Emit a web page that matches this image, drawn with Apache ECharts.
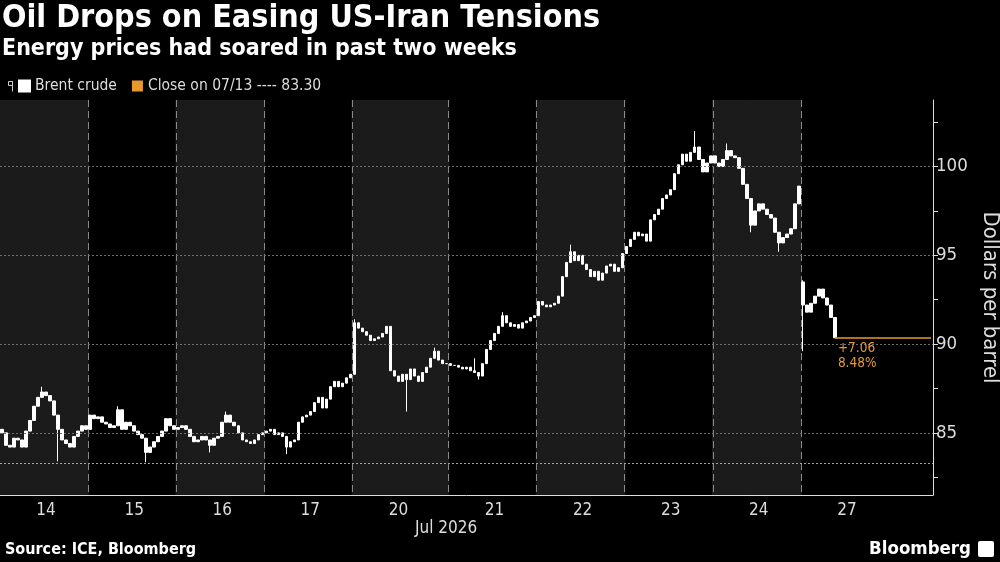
<!DOCTYPE html>
<html>
<head>
<meta charset="utf-8">
<title>Oil Drops on Easing US-Iran Tensions</title>
<script src="https://cdn.jsdelivr.net/npm/echarts@6/dist/echarts.min.js"></script>
<style>
  html, body { margin: 0; padding: 0; background: #000; }
  #chart { width: 1000px; height: 562px; }
</style>
</head>
<body>
<div id="chart"></div>
<script>
// trading days shown on the x axis
const days = ['14', '15', '16', '17', '20', '21', '22', '23', '24', '27']
const shadedDays = ['14', '16', '20', '22', '24']

// Brent crude, roughly hourly closes
const close14 = [85.0, 84.3, 84.2, 84.7, 84.6, 84.2, 85.1, 85.7, 86.5, 87.0, 87.3, 87.1, 86.8, 86.0, 85.2, 84.6, 84.4, 84.2, 84.8, 85.1, 85.4, 85.2]
const close15 = [86.0, 85.8, 85.9, 85.6, 85.5, 85.3, 85.4, 86.3, 85.2, 85.6, 85.4, 85.1, 84.9, 84.7, 83.9, 84.2, 84.5, 84.8, 85.1, 85.8, 85.4, 85.2]
const close16 = [85.3, 85.4, 85.2, 84.8, 84.5, 84.6, 84.8, 84.6, 84.3, 84.7, 84.8, 85.6, 86.0, 85.6, 85.4, 85.0, 84.6, 84.5, 84.4, 84.6, 84.9, 85.0]
const close17 = [85.1, 85.2, 84.9, 85.0, 84.8, 84.2, 84.5, 84.6, 85.6, 85.9, 86.0, 86.2, 86.7, 87.0, 86.4, 86.9, 87.6, 87.9, 87.6, 87.8, 88.1, 88.3]
const close20 = [91.2, 90.9, 90.7, 90.5, 90.2, 90.3, 90.4, 90.6, 91.0, 88.5, 88.2, 87.9, 88.3, 88.0, 88.6, 88.2, 87.9, 88.4, 88.7, 89.2, 89.6, 89.1, 88.9, 88.9]
const close21 = [88.8, 88.8, 88.7, 88.6, 88.7, 88.5, 88.4, 88.2, 88.9, 89.7, 90.2, 90.6, 91.0, 91.6, 91.2, 91.0, 91.1, 90.9, 91.2, 91.3, 91.5, 91.6]
const close22 = [92.4, 92.2, 92.1, 92.2, 92.3, 92.7, 93.8, 94.6, 95.2, 94.7, 95.0, 94.5, 94.2, 93.8, 94.1, 93.6, 94.0, 94.4, 94.5, 94.1, 94.3, 95.1]
const close23 = [95.5, 95.9, 96.3, 96.1, 96.2, 95.8, 97.0, 97.3, 97.6, 98.2, 98.4, 98.7, 99.6, 100.1, 100.7, 100.3, 100.8, 101.1, 100.4, 99.7, 100.2, 100.6]
const close24 = [100.2, 100.0, 100.4, 100.9, 100.6, 100.5, 99.9, 99.0, 98.2, 96.7, 97.5, 97.9, 97.6, 97.3, 97.1, 96.3, 95.7, 96.0, 96.2, 96.5, 97.9, 98.9]
const close27 = [92.2, 91.8, 92.3, 92.7, 93.1, 92.6, 92.2, 91.5, 90.36]
const closeByDay = [close14, close15, close16, close17, close20, close21, close22, close23, close24, close27]

const firstOpen = 85.2
// opens that gap away from the previous close: [day, bar, open]
const gapOpens = [['27', 0, 93.5]]
// wicks that stick out past the bodies: [day, bar, low, high]
const wicks = [
  ['14', 10, null, 87.6], ['14', 14, 83.4, null],
  ['15', 7, null, 86.5], ['15', 14, 83.35, null],
  ['16', 8, 83.9, null], ['16', 12, null, 86.2],
  ['17', 5, 83.8, null],
  ['20', 0, null, 91.4], ['20', 13, 86.2, null], ['20', 20, null, 89.8],
  ['21', 6, null, 89.2], ['21', 7, 88.0, null], ['21', 13, null, 91.8],
  ['22', 8, null, 95.6],
  ['23', 17, null, 102.0],
  ['24', 3, null, 101.3], ['24', 9, 96.3, null], ['24', 16, 95.2, null],
  ['27', 0, 89.6, 93.6],
]

const prevClose = 83.30
const lastClose = 90.36
const changeText = ['+7.06', '8.48%']
const yMin = 81.5
const yMax = 103.75
const yLabels = [85, 90, 95, 100]
const yTicks = [82.5, 85, 87.5, 90, 92.5, 95, 97.5, 100, 102.5]
const lastDaySlots = 33

const orange = '#e8992e'
const font = 'DejaVu Sans Condensed'

// build categories (one per hour slot), candles and day shading
const cats = []
const candles = []
const shade = []
const dayStarts = new Set()
const labelAt = new Set()
let prev = firstOpen
let lastIdx = 0
days.forEach((d, di) => {
  const closes = closeByDay[di]
  const n = di === days.length - 1 ? lastDaySlots : closes.length
  const start = cats.length
  if (start > 0) dayStarts.add(start)
  labelAt.add(start + Math.floor(Math.min(n, 22) / 2))
  for (let i = 0; i < n; i++) {
    cats.push(d + '-' + i)
    shade.push(shadedDays.includes(d) ? yMax : '-')
    if (i < closes.length) {
      const gap = gapOpens.find(g => g[0] === d && g[1] === i)
      const open = gap ? gap[2] : prev
      const c = closes[i]
      let lo = Math.min(open, c)
      let hi = Math.max(open, c)
      const w = wicks.find(k => k[0] === d && k[1] === i)
      if (w && w[2] != null) lo = Math.min(lo, w[2])
      if (w && w[3] != null) hi = Math.max(hi, w[3])
      candles.push([open, c, lo, hi])
      prev = c
      lastIdx = cats.length - 1
    } else {
      candles.push('-')
    }
  }
})

const chart = echarts.init(document.getElementById('chart'))

chart.setOption({
  backgroundColor: '#000',
  animation: false,
  title: [
    {
      text: 'Oil Drops on Easing US-Iran Tensions',
      subtext: 'Energy prices had soared in past two weeks',
      left: 0,
      top: 1,
      padding: [2, 2],
      itemGap: 3,
      textStyle: { color: '#fff', fontSize: 32, fontWeight: 'bold', fontFamily: font },
      subtextStyle: { color: '#fff', fontSize: 23, fontWeight: 'bold', fontFamily: font },
    },
    {
      text: 'Source: ICE, Bloomberg',
      left: 3,
      bottom: 2,
      padding: 2,
      textStyle: { color: '#fff', fontSize: 16, fontWeight: 'bold', fontFamily: font },
    },
    {
      text: 'Bloomberg',
      right: 27,
      bottom: 1,
      padding: 2,
      textStyle: { color: '#fff', fontSize: 18.5, fontWeight: 'bold', fontFamily: font },
    },
  ],
  legend: {
    left: 13,
    top: 73,
    icon: 'rect',
    itemWidth: 11,
    itemHeight: 11,
    itemGap: 15,
    selectedMode: false,
    textStyle: { color: '#ddd', fontSize: 15.5, fontFamily: font },
    data: ['Brent crude', 'Close on 07/13 ---- 83.30'],
  },
  graphic: [
    {
      // little candle glyph in front of the legend
      type: 'group',
      left: 6,
      top: 79,
      children: [
        { type: 'rect', shape: { x: 0, y: 1, width: 4, height: 4 }, style: { fill: 'none', stroke: '#ccc', lineWidth: 1 } },
        { type: 'line', shape: { x1: 4, y1: 1, x2: 4, y2: 11 }, style: { stroke: '#ccc', lineWidth: 1 } },
      ],
    },
    {
      type: 'text',
      left: 415,
      top: 520,
      style: { text: 'Jul 2026', fill: '#ddd', fontSize: 17, fontFamily: font },
    },
    {
      type: 'rect',
      right: 6,
      bottom: 5,
      shape: { width: 16, height: 16, r: 2 },
      style: { fill: '#fff' },
    },
  ],
  grid: { left: 0, right: 67, top: 100, bottom: 67, outerBoundsMode: 'none' },
  xAxis: {
    type: 'category',
    data: cats,
    boundaryGap: true,
    axisLine: { show: true, lineStyle: { color: '#ddd', width: 1 } },
    axisTick: { show: false },
    axisLabel: {
      interval: (i) => labelAt.has(i),
      formatter: (v) => v.split('-')[0],
      color: '#ddd',
      fontSize: 17,
      fontFamily: font,
      margin: 7,
    },
    splitLine: {
      show: true,
      interval: (i) => dayStarts.has(i),
      lineStyle: { color: '#8a8a8a', type: [7, 4], width: 1 },
    },
  },
  yAxis: {
    type: 'value',
    position: 'right',
    min: yMin,
    max: yMax,
    axisLine: { show: true, lineStyle: { color: '#ddd', width: 1 } },
    axisTick: { show: true, customValues: yTicks, length: 5, lineStyle: { color: '#ddd' } },
    axisLabel: { customValues: yLabels, color: '#ddd', fontSize: 18.5, fontFamily: font, margin: 3 },
    splitLine: { show: false },
    name: 'Dollars per barrel',
    nameLocation: 'middle',
    nameRotate: -90,
    nameGap: 42,
    nameTextStyle: { color: '#ddd', fontSize: 22, fontFamily: font },
  },
  series: [
    {
      // shaded background for alternate days
      type: 'bar',
      data: shade,
      barWidth: '140%',
      barCategoryGap: '0%',
      itemStyle: { color: '#1b1b1b' },
      silent: true,
      z: -1,
    },
    {
      name: 'Brent crude',
      type: 'candlestick',
      data: candles,
      barWidth: '75%',
      itemStyle: {
        color: '#fff',
        color0: '#fff',
        borderColor: '#fff',
        borderColor0: '#fff',
        borderWidth: 1,
      },
      z: 3,
      markLine: {
        silent: true,
        symbol: ['none', 'none'],
        label: { show: false },
        data: [
          ...yLabels.map(v => ({ yAxis: v, lineStyle: { color: '#6e6e6e', type: [2, 2], width: 1 } })),
          { yAxis: prevClose, lineStyle: { color: orange, type: [2, 2], width: 1 } },
          [
            {
              coord: [cats[lastIdx], lastClose],
              lineStyle: { color: orange, type: 'solid', width: 1.5 },
              label: {
                show: true,
                position: 'insideStartBottom',
                formatter: changeText.join('\n'),
                color: orange,
                fontSize: 13.5,
                lineHeight: 15,
                fontFamily: font,
                distance: 3,
              },
            },
            { coord: [cats[cats.length - 1], lastClose] },
          ],
        ],
      },
    },
    {
      // legend entry for the 07/13 close
      name: 'Close on 07/13 ---- 83.30',
      type: 'line',
      data: [],
      itemStyle: { color: orange },
      lineStyle: { color: orange },
    },
  ],
})
</script>
</body>
</html>
